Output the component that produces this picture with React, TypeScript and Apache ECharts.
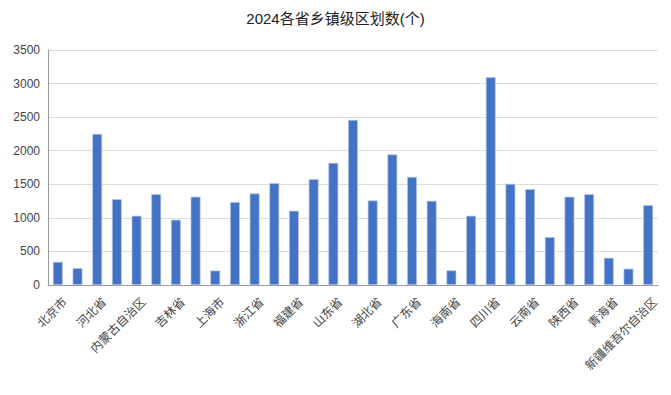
import React, { useEffect, useRef } from "react";
import * as echarts from "echarts";

const categories = [
  "北京市", "天津市", "河北省", "山西省", "内蒙古自治区", "辽宁省", "吉林省", "黑龙江省",
  "上海市", "江苏省", "浙江省", "安徽省", "福建省", "江西省", "山东省", "河南省",
  "湖北省", "湖南省", "广东省", "广西壮族自治区", "海南省", "重庆市", "四川省", "贵州省",
  "云南省", "西藏自治区", "陕西省", "甘肃省", "青海省", "宁夏回族自治区", "新疆维吾尔自治区",
];
const values = [
  345, 252, 2251, 1279, 1031, 1354, 972, 1314,
  215, 1235, 1363, 1517, 1106, 1577, 1820, 2459,
  1259, 1944, 1611, 1254, 218, 1031, 3094, 1507,
  1428, 714, 1314, 1354, 405, 243, 1190,
];
const yTicks = { min: 0, max: 3500, interval: 500 };
const titleText = "2024各省乡镇级区划数(个)";

const FONT = "'Liberation Sans', 'Noto Sans CJK SC', sans-serif";

export default function App() {
  const ref = useRef<HTMLDivElement>(null);
  useEffect(() => {
    const chart = echarts.init(ref.current!, null, { renderer: "svg" });
    chart.setOption({
      animation: false,
      title: {
        text: titleText,
        left: "center",
        top: 6,
        textStyle: { fontSize: 15, fontWeight: "normal", color: "#222", fontFamily: FONT },
      },
      grid: { left: 48, right: 13, top: 50, bottom: 110 },
      xAxis: {
        type: "category",
        data: categories,
        axisLine: { lineStyle: { color: "#999" } },
        axisTick: { alignWithLabel: true, interval: 1, lineStyle: { color: "#999" } },
        axisLabel: {
          interval: 1,
          rotate: 45,
          fontSize: 12,
          color: "#444",
          margin: 8,
          verticalAlign: "top",
          padding: [4, 0, 0, 0],
          fontFamily: FONT,
        },
      },
      yAxis: {
        type: "value",
        min: yTicks.min,
        max: yTicks.max,
        interval: yTicks.interval,
        axisLine: { show: true, lineStyle: { color: "#999" } },
        axisTick: { show: false },
        axisLabel: { fontSize: 12, color: "#444", fontFamily: FONT, formatter: (v: number) => String(v) },
        splitLine: { lineStyle: { color: "#ddd" } },
      },
      series: [
        {
          type: "bar",
          data: values,
          barWidth: "50%",
          itemStyle: { color: "#4472C4", borderColor: "#b4c7e7", borderWidth: 0.7 },
        },
      ],
    });
    return () => chart.dispose();
  }, []);
  return <div ref={ref} style={{ width: 671, height: 395, marginLeft: -8, marginTop: -8 }} />;
}
